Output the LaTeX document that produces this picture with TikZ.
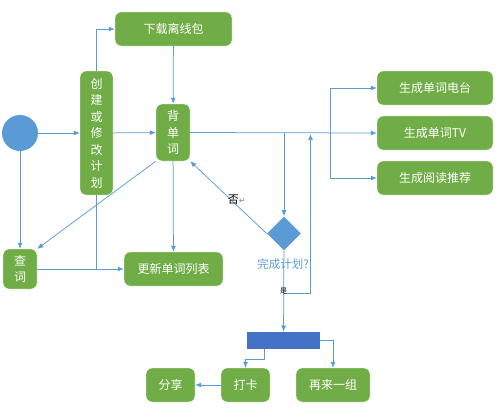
\documentclass[tikz,border=0pt]{standalone}
\usepackage{fontspec}
\setmainfont{Noto Sans CJK SC}
\newfontfamily\symfont{DejaVu Sans}
\usetikzlibrary{shapes.geometric,positioning,arrows.meta}
\definecolor{boxgreen}{HTML}{70AD47}
\definecolor{nodeblue}{HTML}{5B9BD5}
\definecolor{barblue}{HTML}{4472C4}
\definecolor{lineblue}{HTML}{5B9BD5}

\begin{document}
\begin{tikzpicture}[x=1pt,y=-1pt,->,>={Latex[length=6pt,width=5pt]},line width=0.75pt,draw=lineblue]
\tikzstyle{box}=[rectangle,rounded corners=6pt,fill=boxgreen,draw=white,line width=0.4pt,text=white,inner sep=0pt,align=center,font=\fontsize{12}{16.5}\selectfont]
\tikzstyle{every edge}=[draw=lineblue,line width=0.75pt]
\useasboundingbox (0,0) rectangle (498,410);
\node[circle,fill=nodeblue,minimum size=36pt,inner sep=0pt] (start) at (20,133) {};
\node[box,minimum width=33pt,minimum height=124pt] (plan) at (96.5,133) {创\\建\\或\\修\\改\\计\\划};
\node[box,minimum width=117pt,minimum height=34pt] (pkg) at (173.5,29) {下载离线包};
\node[box,minimum width=34pt,minimum height=57pt] (study) at (173,132.5) {背\\单\\词};
\node[box,minimum width=116pt,minimum height=34pt] (radio) at (435,88) {生成单词电台};
\node[box,minimum width=116pt,minimum height=34pt] (tv) at (435,133) {生成单词TV};
\node[box,minimum width=116pt,minimum height=34pt] (read) at (435,178) {生成阅读推荐};
\node[diamond,aspect=1,fill=nodeblue,minimum size=34pt,inner sep=0pt] (done) at (284,233.5) {};
\node[text=nodeblue,font=\fontsize{11.5}{12}\selectfont] (donelbl) at (283,264) {完成计划?};
\node[box,minimum width=34pt,minimum height=40pt] (lookup) at (20,269) {查\\词};
\node[box,minimum width=99pt,minimum height=34pt] (update) at (173.5,269) {更新单词列表};
\node[fill=barblue,minimum width=73pt,minimum height=17pt,inner sep=0pt] (bar) at (283.5,340.5) {};
\node[box,minimum width=49pt,minimum height=34pt] (share) at (170.5,385) {分享};
\node[box,minimum width=49pt,minimum height=34pt] (checkin) at (245.5,385) {打卡};
\node[box,minimum width=74pt,minimum height=34pt] (again) at (333,385) {再来一组};
\coordinate (fork) at (330,133);
\coordinate (drop) at (284,133);
\coordinate (yes) at (284,293);
\coordinate (loopin) at (310.5,134);
\path
(start) edge (plan)
(plan) edge (study)
(pkg) edge (study)
(study.east) edge (tv.west)
(start) edge (lookup)
(lookup) edge (update)
(study.south west) edge (lookup.north east)
(study) edge (update)
(drop) edge (done)
(done.west) edge node[pos=0.47,xshift=6pt,inner sep=0pt,text=black,font=\fontsize{11}{12}\selectfont] {否{\symfont\color{gray}\fontsize{8}{8}\selectfont ↵}} (study.south east)
(done) edge (bar)
(checkin) edge (share);
\draw (plan.north) |- (pkg.west);
\draw[-] (plan.south) -- (plan.south |- update.west);
\draw (fork) |- (radio.west);
\draw (fork) |- (read.west);
\draw (yes) -| (loopin);
\draw ([xshift=18pt]bar.south west) -- ++(0,10) -| (checkin.north);
\draw (bar.east) -| (again.north);
\node[font=\fontsize{7}{8}\selectfont,inner sep=0.5pt] (yeslbl) at (283.5,291) {是};
\end{tikzpicture}
\end{document}
